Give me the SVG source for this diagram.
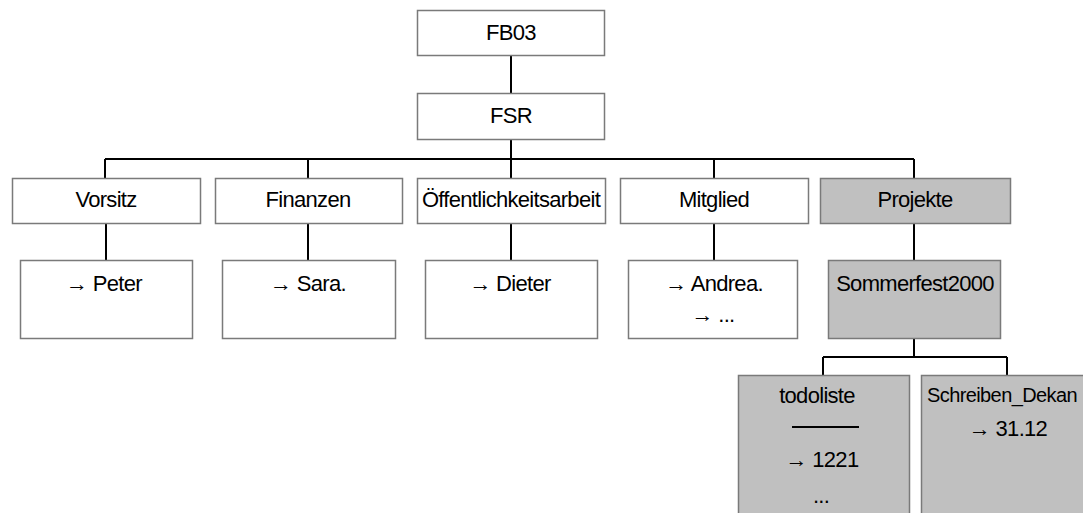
<svg xmlns="http://www.w3.org/2000/svg" width="1083" height="513" viewBox="0 0 1083 513">
<style>
.box{fill:#fff;stroke:#7a7a7a;stroke-width:1.5}
.gray{fill:#c0c0c0;stroke:#7a7a7a;stroke-width:1.5}
.conn{fill:none;stroke:#000;stroke-width:2}
text{font-family:"Liberation Sans",Arial,sans-serif;font-size:22px;letter-spacing:-0.7px;fill:#000;text-anchor:middle}
</style>
<rect width="1083" height="513" fill="#fff"/>
<g id="connectors">
<path class="conn" d="M511 55V93"/>
<path class="conn" d="M511 140V159M105 159H914M105 159V178M308 159V178M511 159V178M714 159V178M914 159V178"/>
<path class="conn" d="M106 223V260M308 223V260M511 223V260M714 223V260M914 223V260"/>
<path class="conn" d="M914 338V357M823 357H1007M823 357V375M1007 357V375"/>
</g>
<g id="fb03"><rect class="box" x="417.5" y="10.5" width="187" height="45"/><text x="511" y="40">FB03</text></g>
<g id="fsr"><rect class="box" x="417.5" y="93.5" width="187" height="46"/><text x="511" y="123">FSR</text></g>
<g id="vorsitz"><rect class="box" x="12.5" y="178.5" width="188" height="45"/><text x="106" y="207">Vorsitz</text></g>
<g id="finanzen"><rect class="box" x="215.5" y="178.5" width="187" height="45"/><text x="308" y="207">Finanzen</text></g>
<g id="oeffentlichkeitsarbeit"><rect class="box" x="417.5" y="178.5" width="188" height="45"/><text x="511" y="207">Öffentlichkeitsarbeit</text></g>
<g id="mitglied"><rect class="box" x="620.5" y="178.5" width="188" height="45"/><text x="714" y="207">Mitglied</text></g>
<g id="projekte"><rect class="gray" x="820.5" y="178.5" width="190" height="45"/><text x="915" y="207">Projekte</text></g>
<g id="peter"><rect class="box" x="20.5" y="260.5" width="172" height="78"/><text x="104" y="291">→ Peter</text></g>
<g id="sara"><rect class="box" x="222.5" y="260.5" width="173" height="78"/><text x="308" y="291">→ Sara.</text></g>
<g id="dieter"><rect class="box" x="425.5" y="260.5" width="172" height="78"/><text x="510" y="291">→ Dieter</text></g>
<g id="andrea"><rect class="box" x="628.5" y="260.5" width="169" height="78"/><text x="714" y="291">→ Andrea.</text><text x="713" y="322">→ ...</text></g>
<g id="sommerfest"><rect class="gray" x="828.5" y="260.5" width="172" height="78"/><text x="915" y="291">Sommerfest2000</text></g>
<g id="todoliste"><rect class="gray" x="738.5" y="375.5" width="171" height="150"/><text x="817" y="403">todoliste</text><path d="M792 427H859" stroke="#000" stroke-width="2"/><text x="822" y="467">→ 1221</text><text x="821" y="503">...</text></g>
<g id="schreiben_dekan"><rect class="gray" x="921.5" y="375.5" width="175" height="150"/><text x="927" y="402" style="text-anchor:start;font-size:20px;letter-spacing:-0.6px">Schreiben_Dekan</text><text x="1008" y="436">→ 31.12</text></g>
</svg>
